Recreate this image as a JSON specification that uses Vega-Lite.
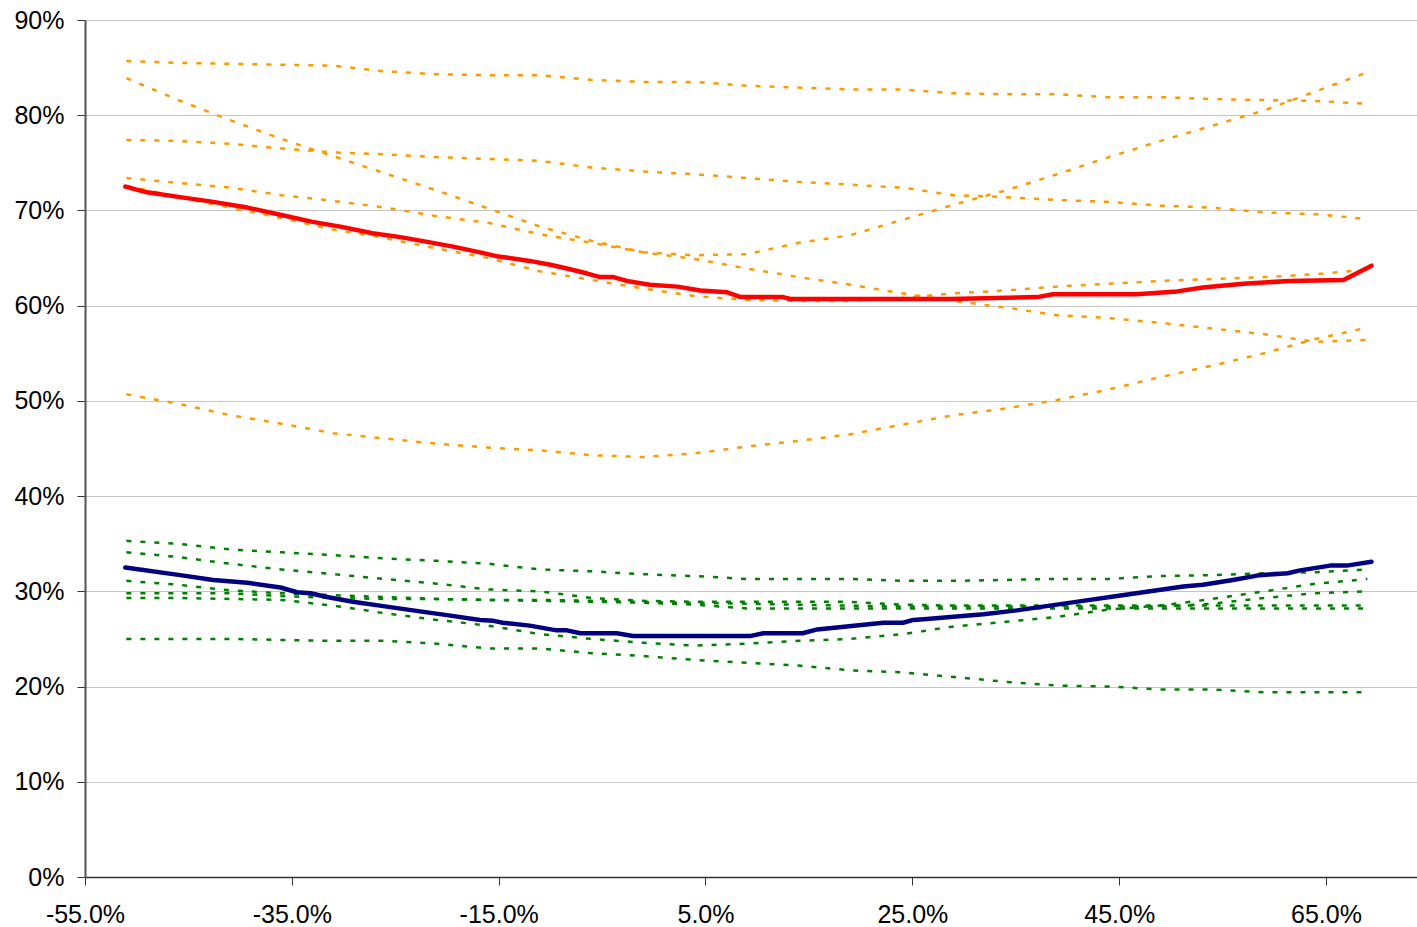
{
  "$schema": "https://vega.github.io/schema/vega-lite/v6.json",
  "autosize": {"type": "none"},
  "padding": {"left": 85, "top": 20, "right": 0, "bottom": 50},
  "width": 1332,
  "height": 857,
  "background": "white",
  "config": {
    "view": {"stroke": null},
    "axis": {"labelFont": "Liberation Sans", "labelFontSize": 25, "labelColor": "#000000", "tickColor": "#333333", "domainColor": "#333333", "tickSize": 8, "title": null}
  },
  "datasets": {
    "pts": [
      {"s":"O1","x":-51,"y":85.7},{"s":"O1","x":-46,"y":85.5},{"s":"O1","x":-41,"y":85.4},{"s":"O1","x":-36,"y":85.3},{"s":"O1","x":-31,"y":85.2},{"s":"O1","x":-26,"y":84.6},{"s":"O1","x":-21,"y":84.3},{"s":"O1","x":-16,"y":84.2},{"s":"O1","x":-11,"y":84.2},{"s":"O1","x":-6,"y":83.7},{"s":"O1","x":-1,"y":83.5},{"s":"O1","x":4,"y":83.5},{"s":"O1","x":9,"y":83.1},{"s":"O1","x":14,"y":82.9},{"s":"O1","x":19,"y":82.7},{"s":"O1","x":24,"y":82.7},{"s":"O1","x":29,"y":82.3},{"s":"O1","x":34,"y":82.2},{"s":"O1","x":39,"y":82.2},{"s":"O1","x":44,"y":81.9},{"s":"O1","x":49,"y":81.9},{"s":"O1","x":54,"y":81.7},{"s":"O1","x":59,"y":81.6},{"s":"O1","x":64,"y":81.5},{"s":"O1","x":69,"y":81.2},
      {"s":"O2","x":-51,"y":83.9},{"s":"O2","x":-46,"y":81.6},{"s":"O2","x":-41,"y":79.5},{"s":"O2","x":-36,"y":77.5},{"s":"O2","x":-31,"y":75.7},{"s":"O2","x":-26,"y":73.9},{"s":"O2","x":-21,"y":72.1},{"s":"O2","x":-16,"y":70.2},{"s":"O2","x":-11,"y":68.3},{"s":"O2","x":-6,"y":66.8},{"s":"O2","x":-1,"y":65.6},{"s":"O2","x":4,"y":65.3},{"s":"O2","x":9,"y":65.4},{"s":"O2","x":14,"y":66.6},{"s":"O2","x":19,"y":67.4},{"s":"O2","x":24,"y":69.0},{"s":"O2","x":29,"y":70.6},{"s":"O2","x":34,"y":72.1},{"s":"O2","x":39,"y":73.8},{"s":"O2","x":44,"y":75.6},{"s":"O2","x":49,"y":77.3},{"s":"O2","x":54,"y":78.9},{"s":"O2","x":59,"y":80.5},{"s":"O2","x":64,"y":82.5},{"s":"O2","x":69,"y":84.5},
      {"s":"O3","x":-51,"y":77.4},{"s":"O3","x":-46,"y":77.3},{"s":"O3","x":-41,"y":77.0},{"s":"O3","x":-36,"y":76.5},{"s":"O3","x":-31,"y":76.1},{"s":"O3","x":-26,"y":75.9},{"s":"O3","x":-21,"y":75.6},{"s":"O3","x":-16,"y":75.4},{"s":"O3","x":-11,"y":75.2},{"s":"O3","x":-6,"y":74.5},{"s":"O3","x":-1,"y":74.1},{"s":"O3","x":4,"y":73.8},{"s":"O3","x":9,"y":73.4},{"s":"O3","x":14,"y":73.0},{"s":"O3","x":19,"y":72.7},{"s":"O3","x":24,"y":72.4},{"s":"O3","x":29,"y":71.6},{"s":"O3","x":34,"y":71.4},{"s":"O3","x":39,"y":71.1},{"s":"O3","x":44,"y":70.9},{"s":"O3","x":49,"y":70.5},{"s":"O3","x":54,"y":70.3},{"s":"O3","x":59,"y":69.8},{"s":"O3","x":64,"y":69.6},{"s":"O3","x":69,"y":69.1},
      {"s":"O4","x":-51,"y":73.4},{"s":"O4","x":-46,"y":72.9},{"s":"O4","x":-41,"y":72.4},{"s":"O4","x":-36,"y":71.6},{"s":"O4","x":-31,"y":71.0},{"s":"O4","x":-26,"y":70.3},{"s":"O4","x":-21,"y":69.4},{"s":"O4","x":-16,"y":68.7},{"s":"O4","x":-11,"y":67.5},{"s":"O4","x":-6,"y":66.6},{"s":"O4","x":-1,"y":65.6},{"s":"O4","x":4,"y":64.9},{"s":"O4","x":9,"y":63.9},{"s":"O4","x":14,"y":63.0},{"s":"O4","x":19,"y":62.2},{"s":"O4","x":24,"y":61.3},{"s":"O4","x":29,"y":60.5},{"s":"O4","x":34,"y":59.8},{"s":"O4","x":39,"y":59.0},{"s":"O4","x":44,"y":58.7},{"s":"O4","x":49,"y":58.2},{"s":"O4","x":54,"y":57.6},{"s":"O4","x":59,"y":57.0},{"s":"O4","x":64,"y":56.2},{"s":"O4","x":69,"y":56.4},
      {"s":"O5","x":-51,"y":72.6},{"s":"O5","x":-46,"y":71.4},{"s":"O5","x":-41,"y":70.3},{"s":"O5","x":-36,"y":69.2},{"s":"O5","x":-31,"y":68.0},{"s":"O5","x":-26,"y":67.1},{"s":"O5","x":-21,"y":66.0},{"s":"O5","x":-16,"y":65.0},{"s":"O5","x":-11,"y":63.6},{"s":"O5","x":-6,"y":62.7},{"s":"O5","x":-1,"y":61.8},{"s":"O5","x":4,"y":61.0},{"s":"O5","x":9,"y":60.6},{"s":"O5","x":14,"y":60.5},{"s":"O5","x":19,"y":60.5},{"s":"O5","x":24,"y":60.8},{"s":"O5","x":29,"y":61.3},{"s":"O5","x":34,"y":61.6},{"s":"O5","x":39,"y":62.0},{"s":"O5","x":44,"y":62.3},{"s":"O5","x":49,"y":62.6},{"s":"O5","x":54,"y":62.8},{"s":"O5","x":59,"y":63.0},{"s":"O5","x":64,"y":63.3},{"s":"O5","x":69,"y":63.8},
      {"s":"O6","x":-51,"y":50.7},{"s":"O6","x":-46,"y":49.7},{"s":"O6","x":-41,"y":48.5},{"s":"O6","x":-36,"y":47.6},{"s":"O6","x":-31,"y":46.6},{"s":"O6","x":-26,"y":46.05},{"s":"O6","x":-21,"y":45.5},{"s":"O6","x":-16,"y":45.1},{"s":"O6","x":-11,"y":44.8},{"s":"O6","x":-6,"y":44.3},{"s":"O6","x":-1,"y":44.1},{"s":"O6","x":4,"y":44.5},{"s":"O6","x":9,"y":45.2},{"s":"O6","x":14,"y":45.8},{"s":"O6","x":19,"y":46.5},{"s":"O6","x":24,"y":47.5},{"s":"O6","x":29,"y":48.5},{"s":"O6","x":34,"y":49.2},{"s":"O6","x":39,"y":50.1},{"s":"O6","x":44,"y":51.2},{"s":"O6","x":49,"y":52.5},{"s":"O6","x":54,"y":53.7},{"s":"O6","x":59,"y":55.0},{"s":"O6","x":64,"y":56.5},{"s":"O6","x":69,"y":57.7},
      {"s":"G1","x":-51,"y":35.3},{"s":"G1","x":-46,"y":35.0},{"s":"G1","x":-41,"y":34.4},{"s":"G1","x":-36,"y":34.1},{"s":"G1","x":-31,"y":33.8},{"s":"G1","x":-26,"y":33.45},{"s":"G1","x":-21,"y":33.2},{"s":"G1","x":-16,"y":32.9},{"s":"G1","x":-11,"y":32.3},{"s":"G1","x":-6,"y":32.1},{"s":"G1","x":-1,"y":31.8},{"s":"G1","x":4,"y":31.6},{"s":"G1","x":9,"y":31.3},{"s":"G1","x":14,"y":31.3},{"s":"G1","x":19,"y":31.3},{"s":"G1","x":24,"y":31.1},{"s":"G1","x":29,"y":31.1},{"s":"G1","x":34,"y":31.2},{"s":"G1","x":39,"y":31.3},{"s":"G1","x":44,"y":31.3},{"s":"G1","x":49,"y":31.6},{"s":"G1","x":54,"y":31.7},{"s":"G1","x":59,"y":31.9},{"s":"G1","x":64,"y":32.0},{"s":"G1","x":69,"y":32.3},
      {"s":"G2","x":-51,"y":34.1},{"s":"G2","x":-46,"y":33.6},{"s":"G2","x":-41,"y":32.9},{"s":"G2","x":-36,"y":32.3},{"s":"G2","x":-31,"y":31.8},{"s":"G2","x":-26,"y":31.3},{"s":"G2","x":-21,"y":30.8},{"s":"G2","x":-16,"y":30.2},{"s":"G2","x":-11,"y":30.0},{"s":"G2","x":-6,"y":29.3},{"s":"G2","x":-1,"y":29.0},{"s":"G2","x":4,"y":28.9},{"s":"G2","x":9,"y":28.9},{"s":"G2","x":14,"y":28.9},{"s":"G2","x":19,"y":28.9},{"s":"G2","x":24,"y":28.6},{"s":"G2","x":29,"y":28.5},{"s":"G2","x":34,"y":28.5},{"s":"G2","x":39,"y":28.5},{"s":"G2","x":44,"y":28.5},{"s":"G2","x":49,"y":28.5},{"s":"G2","x":54,"y":28.5},{"s":"G2","x":59,"y":28.5},{"s":"G2","x":64,"y":28.5},{"s":"G2","x":69,"y":28.5},
      {"s":"G3","x":-51,"y":31.1},{"s":"G3","x":-46,"y":30.7},{"s":"G3","x":-41,"y":30.1},{"s":"G3","x":-36,"y":29.8},{"s":"G3","x":-31,"y":29.6},{"s":"G3","x":-26,"y":29.4},{"s":"G3","x":-21,"y":29.2},{"s":"G3","x":-16,"y":29.1},{"s":"G3","x":-11,"y":29.1},{"s":"G3","x":-6,"y":29.0},{"s":"G3","x":-1,"y":28.9},{"s":"G3","x":4,"y":28.8},{"s":"G3","x":9,"y":28.7},{"s":"G3","x":14,"y":28.6},{"s":"G3","x":19,"y":28.5},{"s":"G3","x":24,"y":28.4},{"s":"G3","x":29,"y":28.4},{"s":"G3","x":34,"y":28.4},{"s":"G3","x":39,"y":28.4},{"s":"G3","x":44,"y":28.4},{"s":"G3","x":49,"y":28.4},{"s":"G3","x":54,"y":28.7},{"s":"G3","x":59,"y":29.3},{"s":"G3","x":64,"y":29.8},{"s":"G3","x":69,"y":30.0},
      {"s":"G4","x":-51,"y":29.8},{"s":"G4","x":-46,"y":29.8},{"s":"G4","x":-41,"y":29.8},{"s":"G4","x":-36,"y":29.5},{"s":"G4","x":-31,"y":29.3},{"s":"G4","x":-26,"y":29.2},{"s":"G4","x":-21,"y":29.2},{"s":"G4","x":-16,"y":29.1},{"s":"G4","x":-11,"y":29.0},{"s":"G4","x":-6,"y":28.9},{"s":"G4","x":-1,"y":28.8},{"s":"G4","x":4,"y":28.6},{"s":"G4","x":9,"y":28.2},{"s":"G4","x":14,"y":28.2},{"s":"G4","x":19,"y":28.2},{"s":"G4","x":24,"y":28.2},{"s":"G4","x":29,"y":28.2},{"s":"G4","x":34,"y":28.2},{"s":"G4","x":39,"y":28.2},{"s":"G4","x":44,"y":28.2},{"s":"G4","x":49,"y":28.2},{"s":"G4","x":54,"y":28.2},{"s":"G4","x":59,"y":28.2},{"s":"G4","x":64,"y":28.2},{"s":"G4","x":69,"y":28.2},
      {"s":"G5","x":-51,"y":29.3},{"s":"G5","x":-46,"y":29.3},{"s":"G5","x":-41,"y":29.2},{"s":"G5","x":-36,"y":29.1},{"s":"G5","x":-31,"y":28.5},{"s":"G5","x":-26,"y":27.7},{"s":"G5","x":-21,"y":27.0},{"s":"G5","x":-16,"y":26.4},{"s":"G5","x":-11,"y":25.5},{"s":"G5","x":-6,"y":25.0},{"s":"G5","x":-1,"y":24.6},{"s":"G5","x":4,"y":24.3},{"s":"G5","x":9,"y":24.5},{"s":"G5","x":14,"y":24.8},{"s":"G5","x":19,"y":25.0},{"s":"G5","x":24,"y":25.5},{"s":"G5","x":29,"y":26.3},{"s":"G5","x":34,"y":26.8},{"s":"G5","x":39,"y":27.3},{"s":"G5","x":44,"y":28.1},{"s":"G5","x":49,"y":28.5},{"s":"G5","x":54,"y":29.2},{"s":"G5","x":59,"y":30.0},{"s":"G5","x":64,"y":30.8},{"s":"G5","x":69,"y":31.3},
      {"s":"G6","x":-51,"y":25.0},{"s":"G6","x":-46,"y":25.0},{"s":"G6","x":-41,"y":25.0},{"s":"G6","x":-36,"y":24.9},{"s":"G6","x":-31,"y":24.8},{"s":"G6","x":-26,"y":24.8},{"s":"G6","x":-21,"y":24.5},{"s":"G6","x":-16,"y":24.0},{"s":"G6","x":-11,"y":24.0},{"s":"G6","x":-6,"y":23.5},{"s":"G6","x":-1,"y":23.2},{"s":"G6","x":4,"y":22.8},{"s":"G6","x":9,"y":22.5},{"s":"G6","x":14,"y":22.2},{"s":"G6","x":19,"y":21.7},{"s":"G6","x":24,"y":21.5},{"s":"G6","x":29,"y":21.0},{"s":"G6","x":34,"y":20.5},{"s":"G6","x":39,"y":20.1},{"s":"G6","x":44,"y":20.0},{"s":"G6","x":49,"y":19.7},{"s":"G6","x":54,"y":19.7},{"s":"G6","x":59,"y":19.4},{"s":"G6","x":64,"y":19.4},{"s":"G6","x":69,"y":19.4},
      {"s":"R","x":-51.1,"y":72.5},{"s":"R","x":-49.0,"y":71.9},{"s":"R","x":-45.8,"y":71.4},{"s":"R","x":-42.6,"y":70.9},{"s":"R","x":-39.3,"y":70.3},{"s":"R","x":-35.9,"y":69.5},{"s":"R","x":-33.0,"y":68.8},{"s":"R","x":-30.3,"y":68.3},{"s":"R","x":-27.2,"y":67.6},{"s":"R","x":-24.5,"y":67.2},{"s":"R","x":-21.9,"y":66.7},{"s":"R","x":-19.4,"y":66.2},{"s":"R","x":-16.8,"y":65.6},{"s":"R","x":-15.2,"y":65.2},{"s":"R","x":-12.0,"y":64.7},{"s":"R","x":-10.0,"y":64.3},{"s":"R","x":-8.4,"y":63.9},{"s":"R","x":-6.5,"y":63.4},{"s":"R","x":-5.2,"y":63.0},{"s":"R","x":-3.9,"y":63.0},{"s":"R","x":-2.6,"y":62.6},{"s":"R","x":-0.4,"y":62.2},{"s":"R","x":2.3,"y":62.0},{"s":"R","x":4.5,"y":61.6},{"s":"R","x":7.1,"y":61.4},{"s":"R","x":8.4,"y":60.9},{"s":"R","x":12.5,"y":60.9},{"s":"R","x":13.2,"y":60.7},{"s":"R","x":28.7,"y":60.7},{"s":"R","x":37.1,"y":60.9},{"s":"R","x":38.6,"y":61.2},{"s":"R","x":46.7,"y":61.2},{"s":"R","x":50.6,"y":61.5},{"s":"R","x":53.1,"y":61.9},{"s":"R","x":57.0,"y":62.3},{"s":"R","x":61.5,"y":62.6},{"s":"R","x":66.7,"y":62.7},{"s":"R","x":69.4,"y":64.2},
      {"s":"B","x":-51.1,"y":32.5},{"s":"B","x":-45.8,"y":31.7},{"s":"B","x":-42.6,"y":31.2},{"s":"B","x":-39.3,"y":30.9},{"s":"B","x":-36.1,"y":30.4},{"s":"B","x":-34.5,"y":29.9},{"s":"B","x":-33.2,"y":29.8},{"s":"B","x":-31.6,"y":29.4},{"s":"B","x":-29.1,"y":28.9},{"s":"B","x":-26.5,"y":28.5},{"s":"B","x":-23.3,"y":28.0},{"s":"B","x":-20.0,"y":27.5},{"s":"B","x":-16.8,"y":27.0},{"s":"B","x":-15.5,"y":26.9},{"s":"B","x":-14.6,"y":26.7},{"s":"B","x":-12.0,"y":26.4},{"s":"B","x":-9.4,"y":25.9},{"s":"B","x":-8.4,"y":25.9},{"s":"B","x":-7.1,"y":25.6},{"s":"B","x":-3.6,"y":25.6},{"s":"B","x":-2.0,"y":25.3},{"s":"B","x":9.3,"y":25.3},{"s":"B","x":10.6,"y":25.6},{"s":"B","x":14.4,"y":25.6},{"s":"B","x":15.8,"y":26.0},{"s":"B","x":22.2,"y":26.7},{"s":"B","x":24.1,"y":26.7},{"s":"B","x":25.1,"y":27.0},{"s":"B","x":26.4,"y":27.1},{"s":"B","x":28.7,"y":27.3},{"s":"B","x":31.9,"y":27.6},{"s":"B","x":35.1,"y":28.0},{"s":"B","x":38.3,"y":28.5},{"s":"B","x":41.5,"y":29.0},{"s":"B","x":44.8,"y":29.5},{"s":"B","x":48.0,"y":30.0},{"s":"B","x":51.2,"y":30.5},{"s":"B","x":53.1,"y":30.7},{"s":"B","x":56.0,"y":31.2},{"s":"B","x":58.6,"y":31.7},{"s":"B","x":61.3,"y":31.9},{"s":"B","x":62.5,"y":32.2},{"s":"B","x":65.4,"y":32.7},{"s":"B","x":67.0,"y":32.7},{"s":"B","x":69.4,"y":33.1}
    ]
  },
  "data": {"name": "pts"},
  "encoding": {
    "x": {"field": "x", "type": "quantitative",
      "scale": {"domain": [-55, 73.8], "nice": false, "zero": false},
      "axis": {"values": [-55, -35, -15, 5, 25, 45, 65], "grid": false, "labelExpr": "(datum.value < 0 ? '-' : '') + format(abs(datum.value), '.1f') + '%'", "labelPadding": 17, "labelFlush": false, "labelOverlap": false, "domainWidth": 1.5}},
    "y": {"field": "y", "type": "quantitative",
      "scale": {"domain": [0, 90], "nice": false, "zero": true},
      "axis": {"values": [0, 10, 20, 30, 40, 50, 60, 70, 80, 90], "grid": true, "gridColor": "#c4c4c4", "gridWidth": 1, "labelExpr": "format(datum.value, 'd') + '%'", "labelPadding": 13, "domainWidth": 2, "domainColor": "#555555"}},
    "color": {"field": "s", "type": "nominal", "legend": null,
      "scale": {"domain": ["O1","O2","O3","O4","O5","O6","G1","G2","G3","G4","G5","G6","R","B"],
        "range": ["#FF9900","#FF9900","#FF9900","#FF9900","#FF9900","#FF9900","#008000","#008000","#008000","#008000","#008000","#008000","#FF0000","#000080"]}}
  },
  "layer": [
    {"transform": [{"filter": "datum.s != 'R' && datum.s != 'B'"}],
     "mark": {"type": "line", "strokeWidth": 2.5, "strokeDash": [5, 9], "strokeCap": "butt"}},
    {"transform": [{"filter": "datum.s == 'R' || datum.s == 'B'"}],
     "mark": {"type": "line", "strokeWidth": 4.5, "strokeCap": "round", "strokeJoin": "round"}}
  ]
}
